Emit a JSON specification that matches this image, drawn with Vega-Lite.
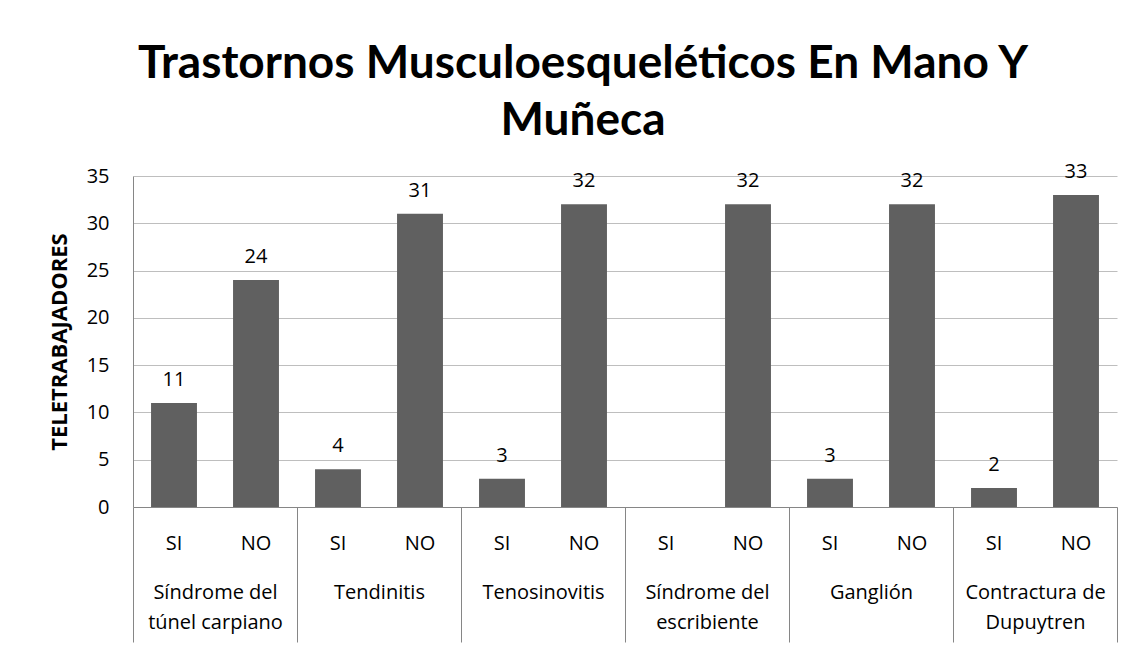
{
  "$schema": "https://vega.github.io/schema/vega-lite/v6.json",
  "autosize": "none",
  "width": 984,
  "height": 331,
  "padding": {"left": 133, "top": 176, "right": 19, "bottom": 144},
  "background": "white",
  "title": {
    "text": ["Trastornos Musculoesqueléticos En Mano Y", "Muñeca"],
    "font": "Lato", "fontSize": 46, "fontWeight": "bold", "color": "#000000",
    "anchor": "middle", "frame": "group", "dx": -42, "offset": 17, "lineHeight": 57
  },
  "data": {"values": [
    {"grupo": "Síndrome del|túnel carpiano", "key": "1|SI", "valor": 11},
    {"grupo": "Síndrome del|túnel carpiano", "key": "1|NO", "valor": 24},
    {"grupo": "Tendinitis", "key": "2|SI", "valor": 4},
    {"grupo": "Tendinitis", "key": "2|NO", "valor": 31},
    {"grupo": "Tenosinovitis", "key": "3|SI", "valor": 3},
    {"grupo": "Tenosinovitis", "key": "3|NO", "valor": 32},
    {"grupo": "Síndrome del|escribiente", "key": "4|SI", "valor": 0},
    {"grupo": "Síndrome del|escribiente", "key": "4|NO", "valor": 32},
    {"grupo": "Ganglión", "key": "5|SI", "valor": 3},
    {"grupo": "Ganglión", "key": "5|NO", "valor": 32},
    {"grupo": "Contractura de|Dupuytren", "key": "6|SI", "valor": 2},
    {"grupo": "Contractura de|Dupuytren", "key": "6|NO", "valor": 33}
  ]},
  "layer": [
    {
      "encoding": {
        "x": {
          "field": "key", "type": "nominal", "sort": null,
          "scale": {"paddingInner": 0.44, "paddingOuter": 0.22},
          "axis": {
            "orient": "bottom", "title": null, "labelExpr": "split(datum.label, '|')[1]",
            "ticks": false, "domain": true, "domainColor": "#868686", "domainWidth": 1,
            "labelPadding": 26, "labelFont": "Open Sans", "labelFontSize": 20, "labelAngle": 0,
            "labelColor": "#000000", "labelBaseline": "top", "labelOverlap": false
          }
        },
        "y": {
          "field": "valor", "type": "quantitative",
          "scale": {"domain": [0, 35]},
          "axis": {
            "values": [0, 5, 10, 15, 20, 25, 30, 35],
            "grid": true, "gridColor": "#bebebe", "gridWidth": 1,
            "domain": true, "domainColor": "#868686", "ticks": false,
            "labelPadding": 24, "labelFont": "Open Sans", "labelFontSize": 20, "labelColor": "#000000",
            "title": "TELETRABAJADORES", "titleFont": "Open Sans", "titleFontSize": 22,
            "titleFontWeight": "bold", "titleColor": "#000000", "titlePadding": 15
          }
        }
      },
      "layer": [
        {"mark": {"type": "bar", "color": "#606060"}},
        {
          "transform": [{"filter": "datum.valor > 0"}],
          "mark": {"type": "text", "baseline": "alphabetic", "dy": -17, "font": "Open Sans", "fontSize": 20, "color": "#000000"},
          "encoding": {"text": {"field": "valor", "type": "quantitative"}}
        }
      ]
    },
    {
      "mark": {"type": "point", "opacity": 0},
      "encoding": {
        "x": {
          "field": "grupo", "type": "nominal", "sort": null,
          "scale": {"padding": 0},
          "axis": {
            "orient": "bottom", "title": null, "domain": false,
            "ticks": true, "tickBand": "extent", "tickSize": 135, "tickColor": "#868686", "tickWidth": 1,
            "labelExpr": "split(datum.label, '|')", "labelLineHeight": 30,
            "labelPadding": -60, "labelFont": "Open Sans", "labelFontSize": 20, "labelAngle": 0,
            "labelColor": "#000000", "labelBaseline": "top", "labelOverlap": false
          }
        }
      }
    }
  ],
  "resolve": {"scale": {"x": "independent"}, "axis": {"x": "independent"}},
  "config": {"view": {"stroke": null}}
}
